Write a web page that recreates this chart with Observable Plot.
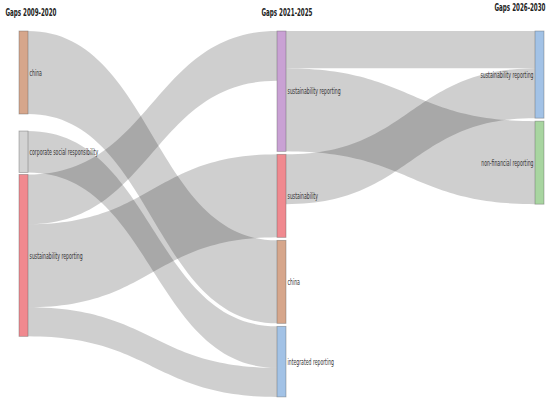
<!DOCTYPE html>
<html>
<head>
<meta charset="utf-8">
<script src="https://cdn.jsdelivr.net/npm/d3@7"></script>
<script src="https://cdn.jsdelivr.net/npm/@observablehq/plot@0.6"></script>
<style>
  html, body { margin: 0; padding: 0; background: #fff; }
  #chart svg { display: block; }
</style>
</head>
<body>
<div id="chart"></div>
<script>
// ---- data ----
const columnTitles = ["Gaps 2009-2020", "Gaps 2021-2025", "Gaps 2026-2030"];
const col0Nodes = ["china", "corporate social responsibility", "sustainability reporting"];
const col1Nodes = ["sustainability reporting", "sustainability", "china", "integrated reporting"];
const col2Nodes = ["sustainability reporting", "non-financial reporting"];
const col0Colors = ["#d6a68b", "#d3d3d3", "#f0898f"];
const col1Colors = ["#c9a1d4", "#f0898f", "#d6a68b", "#a2c2e6"];
const col2Colors = ["#a2c2e6", "#a8d5a0"];

const linkFrom  = ["0:china", "0:corporate social responsibility", "0:sustainability reporting", "0:sustainability reporting", "0:sustainability reporting", "1:sustainability reporting", "1:sustainability reporting", "1:sustainability"];
const linkTo    = ["1:china", "1:integrated reporting", "1:sustainability reporting", "1:sustainability", "1:integrated reporting", "2:sustainability reporting", "2:non-financial reporting", "2:sustainability reporting"];
const linkValue = [20, 10, 12, 20, 7, 9, 20, 12];

// ---- layout (computed from data) ----
const pxPerUnit = 4.15;
const gapPx = [[17, 2], [3, 3, 3], [3]];
const nodeW = 9 / 258;

const cols = [col0Nodes, col1Nodes, col2Nodes];
const colColors = [col0Colors, col1Colors, col2Colors];
const nodes = [];
const byId = new Map();
cols.forEach((names, c) => {
  names.forEach((name, i) => {
    const n = {id: c + ":" + name, name, col: c, color: colColors[c][i], inV: 0, outV: 0, idx: i};
    nodes.push(n); byId.set(n.id, n);
  });
});
const links = linkValue.map((v, i) => ({id: i, source: byId.get(linkFrom[i]), target: byId.get(linkTo[i]), value: v}));
links.forEach(l => { l.source.outV += l.value; l.target.inV += l.value; });
cols.forEach((names, c) => {
  let y = 0;
  names.forEach((name, i) => {
    const n = byId.get(c + ":" + name);
    if (i > 0) y += gapPx[c][i - 1] / pxPerUnit;
    n.y0 = y; n.size = Math.max(n.inV, n.outV); n.y1 = y + n.size; y = n.y1;
  });
});
nodes.forEach(n => {
  n.x2 = n.col + nodeW;
  n.ym = (n.y0 + n.y1) / 2;
  const outs = links.filter(l => l.source === n).sort((a, b) => a.target.y0 - b.target.y0);
  let y = n.y0; outs.forEach(l => { l.sy0 = y; y += l.value; l.sy1 = y; });
  const ins = links.filter(l => l.target === n).sort((a, b) => a.source.y0 - b.source.y0);
  y = n.y0; ins.forEach(l => { l.ty0 = y; y += l.value; l.ty1 = y; });
});
const N = 60;
const bandPts = [];
links.forEach(l => {
  const xs = l.source.col + nodeW, xt = l.target.col, xm = (xs + xt) / 2;
  for (let i = 0; i <= N; i++) {
    const t = i / N, u = 1 - t;
    const x = u*u*u*xs + 3*u*u*t*xm + 3*u*t*t*xm + t*t*t*xt;
    const h = 3*t*t - 2*t*t*t;
    bandPts.push({id: l.id, x, ya: l.sy0 + (l.ty0 - l.sy0) * h, yb: l.sy1 + (l.ty1 - l.sy1) * h});
  }
});
const yMax = 367 / pxPerUnit;

const labelFont = "'Liberation Sans Narrow', 'DejaVu Sans Condensed', 'Arial Narrow', sans-serif";
const headers = columnTitles.map((t, i) => ({t, col: i, xc: i + nodeW / 2}));

const chart = Plot.plot({
  width: 550,
  height: 398,
  margin: 0,
  x: {domain: [0, 2], range: [19, 535], axis: null},
  y: {domain: [0, yMax], range: [31, 398], axis: null},
  style: {fontFamily: labelFont, background: "#fff"},
  marks: [
    Plot.areaY(bandPts, {x: "x", y1: "ya", y2: "yb", z: "id", fill: "#000", fillOpacity: 0.19, curve: "linear"}),
    Plot.rect(nodes, {x1: "col", x2: "x2", y1: "y0", y2: "y1", fill: "color", stroke: "#555", strokeOpacity: 0.45, strokeWidth: 0.8}),
    Plot.text(nodes.filter(n => n.col < 2), {x: "x2", y: "ym", text: "name", textAnchor: "start", dx: 1, fontSize: 8.5, fill: "#333"}),
    Plot.text(nodes.filter(n => n.col === 2), {x: "col", y: "ym", text: "name", textAnchor: "end", dx: -2, fontSize: 8.5, fill: "#333"}),
    Plot.text(headers.filter(h => h.col === 0), {text: "t", frameAnchor: "top-left", dx: 5, dy: 8, fontSize: 10, fontWeight: 600, fill: "#222"}),
    Plot.text(headers.filter(h => h.col === 1), {x: "xc", text: "t", frameAnchor: "top", dx: 5, dy: 8, fontSize: 10, fontWeight: 600, fill: "#222"}),
    Plot.text(headers.filter(h => h.col === 2), {text: "t", frameAnchor: "top-right", dx: -5, dy: 3, fontSize: 10, fontWeight: 600, fill: "#222"})
  ]
});
document.getElementById("chart").appendChild(chart);

// condense the text horizontally, like the reference's narrow type
const groups = chart.querySelectorAll('g[aria-label="text"]');
groups.forEach((g, gi) => {
  const f = gi < 2 ? 0.6 : 0.62;
  g.querySelectorAll("text").forEach(t => {
    const L = t.getComputedTextLength();
    if (L > 0) {
      t.setAttribute("textLength", (L * f).toFixed(2));
      t.setAttribute("lengthAdjust", "spacingAndGlyphs");
    }
  });
});
</script>
</body>
</html>
